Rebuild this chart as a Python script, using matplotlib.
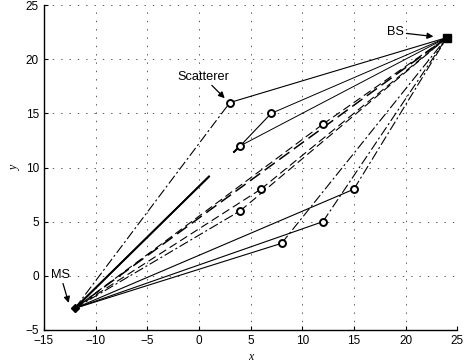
import matplotlib
matplotlib.use("Agg")
import matplotlib.pyplot as plt

plt.rcParams['font.family'] = ['Liberation Sans', 'DejaVu Sans']
plt.rcParams['lines.scale_dashes'] = False

# --- data ---
ms = (-12, -3)
bs = (24, 22)
sc_x = [3, 7, 4, 12, 6, 4, 15, 12, 8]
sc_y = [16, 15, 12, 14, 8, 6, 8, 5, 3]
# each path: list of scatterer indices between MS and BS
paths = [[0], [2, 1], [2], [3], [4], [5], [6], [7], [8], []]
xticks = [-15, -10, -5, 0, 5, 10, 15, 20, 25]
yticks = [-5, 0, 5, 10, 15, 20, 25]

# styles per path segment: (MS->first, between, last->BS)
dd = (7, 2, 1.5, 2)       # dash-dot
da = (6, 3)               # dashed
solid = None
styles = [
    [(dd, 0.8), (solid, 0.8)],
    [((136, 24), 1.3), (solid, 0.8), (solid, 0.7)],
    [((136, 24), 1.3), (solid, 0.7)],
    [(da, 0.8), (da, 0.8)],
    [(da, 0.8), (da, 0.8)],
    [(dd, 0.8), (da, 0.8)],
    [(solid, 0.8), (dd, 0.8)],
    [(solid, 0.8), (dd, 0.8)],
    [(solid, 0.8), (dd, 0.8)],
    [((9, 4), 1.1)],
]

fig = plt.figure(figsize=(4.67, 3.63), dpi=100)
ax = fig.add_axes([0.094, 0.091, 0.885, 0.895])

for path, st in zip(paths, styles):
    px = [ms[0]] + [sc_x[i] for i in path] + [bs[0]]
    py = [ms[1]] + [sc_y[i] for i in path] + [bs[1]]
    for k in range(len(px) - 1):
        dash, lw = st[min(k, len(st) - 1)]
        line, = ax.plot(px[k:k + 2], py[k:k + 2], color='black', lw=lw,
                        solid_capstyle='butt', dash_capstyle='butt', zorder=2)
        if dash is not None:
            line.set_dashes(dash)

ax.plot(sc_x, sc_y, 'o', ms=5, mfc='white', mec='black', mew=1.4, zorder=4)
ax.plot([bs[0]], [bs[1]], 's', ms=6, color='black', zorder=4)
ax.plot([ms[0]], [ms[1]], 'D', ms=4.5, color='black', zorder=4)

arrow = dict(arrowstyle='-|>', color='black', lw=0.9, mutation_scale=9, shrinkA=0, shrinkB=0)
ax.annotate('Scatterer', xy=(2.5, 16.4), xytext=(0.4, 18.4), ha='center', va='center',
            fontsize=9.2, arrowprops=arrow)
ax.annotate('BS', xy=(22.7, 22.1), xytext=(19.0, 22.5), ha='center', va='center',
            fontsize=9.2, arrowprops=arrow)
ax.annotate('MS', xy=(-12.6, -2.5), xytext=(-13.4, 0.1), ha='center', va='center',
            fontsize=9.2, arrowprops=arrow)

ax.set_xlim(-15, 25)
ax.set_ylim(-5, 25)
ax.set_xticks(xticks)
ax.set_yticks(yticks)
ax.set_xticklabels([str(t).replace('-', '\u2212') for t in xticks])
ax.set_yticklabels([str(t).replace('-', '\u2212') for t in yticks])
ax.tick_params(direction='in', labelsize=8.5, length=3, width=0.8)
ax.grid(True, linestyle=(0, (1, 5)), color='0.35', lw=0.7)
ax.set_axisbelow(True)
ax.spines['top'].set_visible(False)
ax.spines['right'].set_visible(False)
ax.spines['left'].set_linewidth(1.0)
ax.spines['bottom'].set_linewidth(1.0)
ax.set_xlabel('x', family='Liberation Serif', style='italic', fontsize=8.5, labelpad=3)
ax.set_ylabel('y', family='Liberation Serif', style='italic', fontsize=8.5, labelpad=3)

fig.savefig('out.png', dpi=100)
